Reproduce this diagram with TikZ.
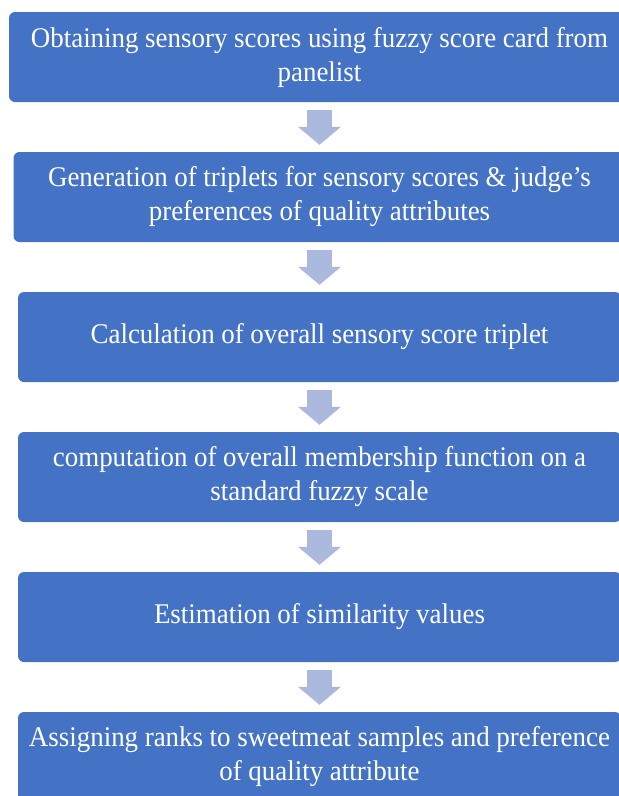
\documentclass[tikz,border=0pt]{standalone}
\usepackage{fontspec}
\setmainfont[FakeStretch=0.945]{Liberation Serif}
\usetikzlibrary{arrows.meta}
\definecolor{boxblue}{RGB}{68,114,196}
\definecolor{arrowblue}{RGB}{172,185,222}
\tikzstyle{stage} = [rectangle,
rounded corners=6pt,
minimum height=90pt,
text width=595pt,
align=center,
inner sep=0pt,
fill=boxblue,
text=white,
font=\fontsize{28.5}{34}\selectfont,
execute at begin node={\spaceskip=6.6pt\relax}]
\tikzstyle{arrow} = [arrowblue,line width=25pt,-{Triangle[width=42pt,length=18pt]}]

\begin{document}
\begin{tikzpicture}[node distance=140pt]
\useasboundingbox (0,0) rectangle (619pt,-796pt);

\node (obtain) [stage, minimum width=621pt] at (319.5pt,-57pt) {Obtaining sensory scores using fuzzy score card from\\ panelist};
\node (triplets) [stage, below of=obtain, minimum width=612pt] {Generation of triplets for sensory scores \& judge’s\\ preferences of quality attributes};
\node (overall) [stage, below of=triplets, minimum width=603pt] {Calculation of overall sensory score triplet};
\node (member) [stage, below of=overall, minimum width=603pt] {computation of overall membership function on a\\ standard fuzzy scale};
\node (similar) [stage, below of=member, minimum width=603pt] {Estimation of similarity values};
\node (ranks) [stage, below of=similar, minimum width=603pt] {Assigning ranks to sweetmeat samples and preference\\ of quality attribute};

\draw [arrow] ([yshift=-8pt]obtain.south) -- ([yshift=7pt]triplets.north);
\draw [arrow] ([yshift=-8pt]triplets.south) -- ([yshift=7pt]overall.north);
\draw [arrow] ([yshift=-8pt]overall.south) -- ([yshift=7pt]member.north);
\draw [arrow] ([yshift=-8pt]member.south) -- ([yshift=7pt]similar.north);
\draw [arrow] ([yshift=-8pt]similar.south) -- ([yshift=7pt]ranks.north);

\end{tikzpicture}
\end{document}
